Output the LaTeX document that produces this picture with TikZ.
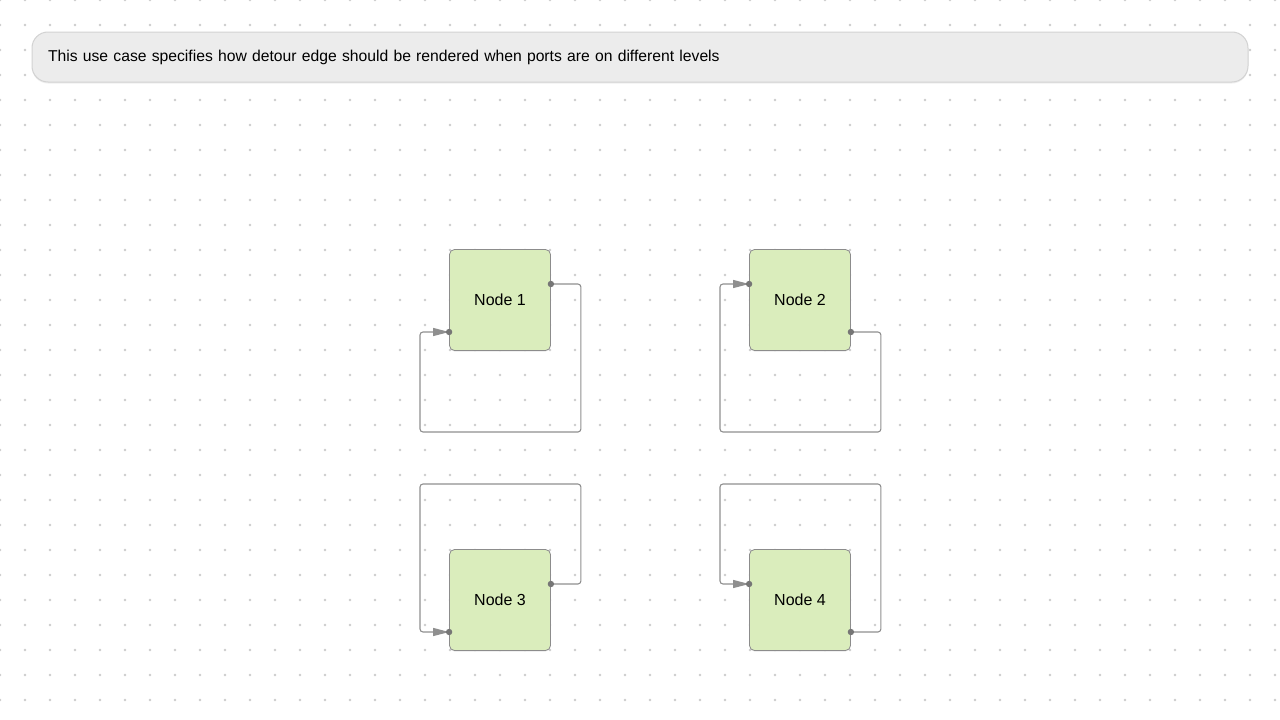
\documentclass[tikz,border=0pt]{standalone}
\usepackage{fontspec}
\setmainfont{Liberation Sans}
\usepackage{tikz}
\usetikzlibrary{positioning, arrows.meta, calc, shadows}
\definecolor{dotgray}{HTML}{CCCCCC}
\definecolor{boxgreen}{HTML}{DAEDBC}
\definecolor{boxborder}{HTML}{8C8C8C}
\definecolor{bannerfill}{HTML}{ECECEC}
\definecolor{bannerborder}{HTML}{D2D2D2}
\definecolor{edgegray}{HTML}{8F8F8F}
\definecolor{portgray}{HTML}{767676}
\def\dotgrid{%
    \def\xdots{51}
    \def\ydots{28}
    \def\raster{25}

    % draw the dots of the background
    \foreach \x in {0,...,\xdots}
    {
        \foreach \y in {0,...,\ydots}
        {
            \fill[dotgray] (\x * \raster, \y * \raster) circle (1.3pt);
        }
    }
}
\tikzset{
    usecase/.style={draw=boxborder, fill=boxgreen, line width=0.8pt,
        rounded corners=5pt, minimum size=101pt, inner sep=0pt,
        font=\fontsize{16}{19}\selectfont,
        drop shadow={opacity=0.18, shadow xshift=0pt, shadow yshift=-1pt}},
    banner/.style={draw=bannerborder, fill=bannerfill, line width=1pt,
        rounded corners=16pt, minimum width=1216pt, minimum height=50pt,
        text width=1184pt, inner xsep=16pt, align=left,
        font=\fontsize{15.7}{19}\selectfont,
        drop shadow={opacity=0.12, shadow xshift=0pt, shadow yshift=-1.5pt}},
    detour/.style={draw=edgegray, line width=1.1pt, rounded corners=3pt,
        -{Triangle[length=16pt, width=8pt]}},
    port/.style={fill=portgray}
}
\begin{document}
\begin{tikzpicture}[x=1pt, y=-1pt]
    \useasboundingbox (0,0) rectangle (1280,720);
    \fill[white] (0,0) rectangle (1280,720);
    \dotgrid

    \node[banner] (note) at (640,57) {This use case specifies how detour edge should be rendered when ports are on different levels};

    \node[usecase] (n1) at (500,300) {Node 1};
    \node[usecase] (n2) at (800,300) {Node 2};
    \node[usecase] (n3) at (500,600) {Node 3};
    \node[usecase] (n4) at (800,600) {Node 4};

    % detour edges, from the east port round to the west port
    \foreach \n/\o/\i/\dy in {
        n1/16/-32/132,
        n2/-32/16/132,
        n3/16/-32/-116,
        n4/-32/16/-116}{

        \coordinate (\n-out) at ([yshift=\o pt]\n.east);
        \coordinate (\n-in) at ([yshift=\i pt]\n.west);
        \draw[detour] (\n-out) -- ++(30,0) |- ($(\n)+(-80,\dy)$) |- (\n-in);
        \fill[port] (\n-out) circle (3.2pt);
        \fill[port] (\n-in) circle (3.2pt);
    }
\end{tikzpicture}
\end{document}
